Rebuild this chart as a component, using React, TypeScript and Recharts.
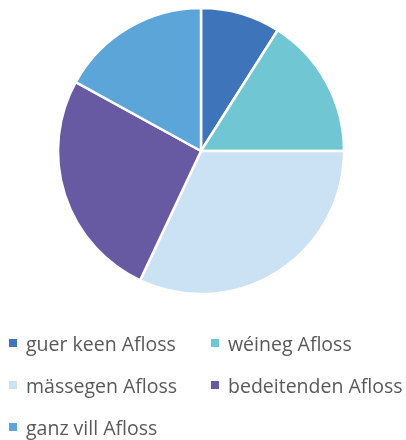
import { PieChart, Pie, Cell } from "recharts";

const categories = [
  "guer keen Afloss",
  "wéineg Afloss",
  "mässegen Afloss",
  "bedeitenden Afloss",
  "ganz vill Afloss",
];
const values = [9, 16, 32, 26, 17];
const colors = ["#3D74BA", "#71C6D3", "#CBE1F4", "#6859A3", "#5CA5D9"];

const data = categories.map((name, i) => ({ name, value: values[i] }));

function LegendBox() {
  return (
    <div
      style={{
        position: "absolute",
        top: 332,
        left: 0,
        width: 406,
        display: "grid",
        gridTemplateColumns: "202px 204px",
        rowGap: 20,
        fontFamily: "'Open Sans', sans-serif",
        fontSize: 19.5,
        color: "#595959",
      }}
    >
      {categories.map((name, i) => (
        <div
          key={name}
          style={{ display: "flex", alignItems: "center", height: 22, paddingLeft: 9 }}
        >
          <span
            style={{
              width: 8,
              height: 8,
              background: colors[i],
              marginRight: 9,
              display: "inline-block",
            }}
          />
          {name}
        </div>
      ))}
    </div>
  );
}

export default function App() {
  return (
    <div
      style={{
        position: "fixed",
        top: 0,
        left: 0,
        width: 406,
        height: 440,
        background: "#fff",
      }}
    >
      <PieChart width={406} height={300} margin={{ top: 0, right: 0, bottom: 0, left: 0 }}>
        <Pie
          data={data}
          dataKey="value"
          nameKey="name"
          cx={201}
          cy={151}
          outerRadius={143}
          startAngle={90}
          endAngle={-270}
          stroke="#fff"
          strokeWidth={2.5}
          isAnimationActive={false}
        >
          {data.map((d, i) => (
            <Cell key={d.name} fill={colors[i]} />
          ))}
        </Pie>
      </PieChart>
      <LegendBox />
    </div>
  );
}
